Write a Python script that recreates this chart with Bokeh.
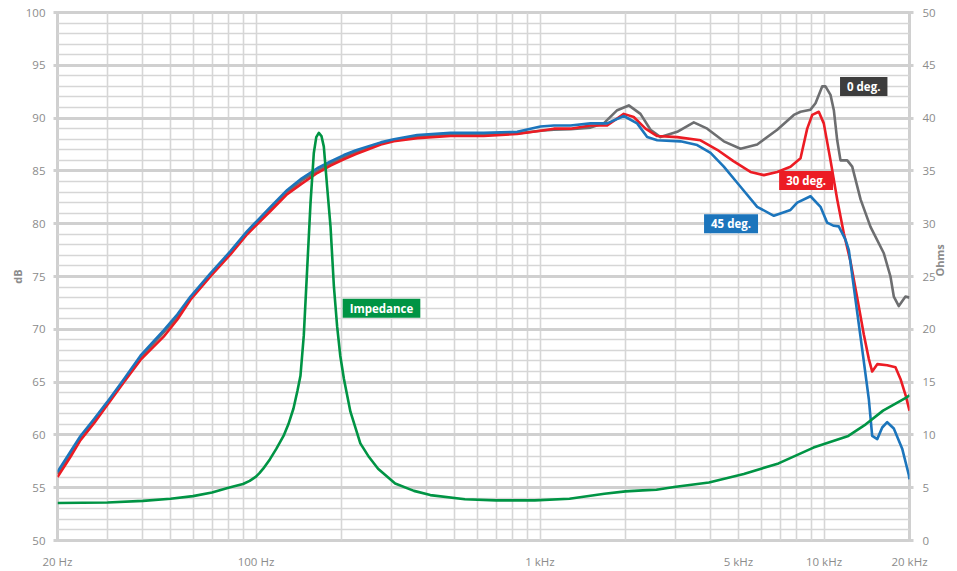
from math import pi
from bokeh.plotting import figure
from bokeh.models import Range1d, LinearAxis, FixedTicker, Label
from bokeh.embed import file_html
from bokeh.resources import INLINE

# ---------------- data ----------------
freq_lf = [20, 22.2, 24.1, 26.9, 29.9, 34.3, 39.2, 43.0, 47.3, 52.8, 58.8, 69.1, 81.3,
           93.1, 112.5, 128.8, 145, 164.3, 183, 203.8, 225, 246.3, 275, 305.8, 369.5,
           484, 634, 831, 1004, 1119, 1281]
db45_lf = [56.5, 58.4, 59.9, 61.5, 63.1, 65.3, 67.5, 68.7, 69.9, 71.4, 73.1, 75.3, 77.4,
           79.3, 81.6, 83.2, 84.3, 85.25, 85.9, 86.5, 86.95, 87.3, 87.7, 88.0, 88.4,
           88.6, 88.6, 88.7, 89.2, 89.3, 89.3]
db30_lf = [56.0, 57.9, 59.5, 61.1, 62.8, 65.0, 67.1, 68.2, 69.3, 70.9, 72.8, 75.0, 77.1,
           79.0, 81.2, 82.8, 83.8, 84.8, 85.5, 86.1, 86.6, 87.0, 87.5, 87.8, 88.1,
           88.3, 88.3, 88.5, 88.8, 89.0, 89.0]
db0_lf = [56.3, 58.2, 59.7, 61.3, 62.95, 65.15, 67.3, 68.5, 69.7, 71.15, 72.95, 75.15, 77.25,
          79.15, 81.4, 83.0, 84.1, 85.0, 85.7, 86.3, 86.8, 87.15, 87.6, 87.9, 88.25,
          88.45, 88.45, 88.55, 88.8, 88.9, 88.95]

freq0_hf = [1506, 1677, 1870, 2054, 2258, 2449, 2656, 3042, 3480, 3880, 4438, 5082, 5818,
            6844, 7828, 8266, 8962, 9334, 9854, 10120, 10540, 10830, 11130, 11430, 12070,
            12570, 13450, 14580, 16240, 17140, 17610, 18340, 19360, 20000]
db0_hf = [89.1, 89.5, 90.75, 91.2, 90.4, 88.9, 88.2, 88.7, 89.6, 89.0, 87.8, 87.1, 87.5,
          88.9, 90.3, 90.6, 90.8, 91.4, 93.0, 93.0, 92.2, 90.75, 87.9, 86.0, 86.0,
          85.4, 82.3, 79.7, 77.2, 75.0, 73.1, 72.2, 73.1, 73.0]

freq30_hf = [1506, 1724, 1972, 2138, 2352, 2586, 3042, 3674, 4207, 4812, 5510, 6138, 6844,
             7621, 8266, 8726, 9088, 9586, 9982, 10540, 11130, 11740, 12400, 13090, 13810,
             14380, 14780, 15400, 16690, 17850, 18590, 19360, 20000]
db30_hf = [89.3, 89.3, 90.4, 90.1, 89.0, 88.3, 88.2, 87.9, 87.0, 85.9, 84.9, 84.6, 84.9,
           85.4, 86.2, 89.0, 90.3, 90.6, 89.5, 86.0, 82.3, 79.1, 76.4, 73.0, 69.5,
           67.2, 66.0, 66.7, 66.6, 66.4, 65.3, 63.8, 62.3]

freq45_hf = [1506, 1724, 1972, 2198, 2384, 2586, 3124, 3577, 3986, 4438, 5082, 5818, 6659,
             7621, 8046, 8962, 9720, 10260, 10830, 11270, 11900, 12230, 12910, 13630, 14380,
             14780, 15400, 16030, 16690, 17610, 18850, 19890, 20000]
db45_hf = [89.5, 89.5, 90.2, 89.5, 88.2, 87.9, 87.8, 87.45, 86.7, 85.4, 83.5, 81.6, 80.75,
           81.3, 82.0, 82.6, 81.6, 80.1, 79.8, 79.75, 78.5, 77.5, 72.8, 68.1, 63.4,
           59.9, 59.6, 60.7, 61.2, 60.6, 58.7, 56.2, 55.8]

freq_imp = [20, 30, 40, 50, 60, 70, 80, 90, 95, 100, 103, 106, 112, 118, 125, 130, 135.5,
            140, 143.4, 147.3, 151.4, 155.6, 159.8, 163, 166.4, 170, 173.3, 178, 183, 188,
            193, 198, 204, 215, 233, 250, 269, 309, 360, 411, 544, 700, 958, 1270, 1686,
            2000, 2300, 2570, 2966, 3934, 5218, 6915, 9183, 12180, 14030, 16140, 19410, 20000]
ohm_imp = [3.55, 3.6, 3.75, 3.95, 4.2, 4.55, 5.0, 5.35, 5.65, 6.05, 6.4, 6.8, 7.7, 8.7, 9.9,
           11.0, 12.5, 14.2, 15.6, 19.4, 25.7, 32.0, 36.7, 38.2, 38.6, 38.3, 37.3, 33.5,
           29.7, 24.1, 20.3, 17.5, 15.3, 12.2, 9.2, 7.9, 6.8, 5.4, 4.7, 4.3, 3.9, 3.8, 3.8,
           3.96, 4.43, 4.65, 4.75, 4.8, 5.06, 5.5, 6.3, 7.3, 8.8, 9.9, 11.0, 12.3, 13.5, 13.75]

freq_0 = freq_lf + freq0_hf
db_0 = db0_lf + db0_hf
freq_30 = freq_lf + freq30_hf
db_30 = db30_lf + db30_hf
freq_45 = freq_lf + freq45_hf
db_45 = db45_lf + db45_hf

x_tick_values = [20, 100, 1000, 5000, 10000, 20000]
x_tick_labels = ["20 Hz", "100 Hz", "1 kHz", "5 kHz", "10 kHz", "20 kHz"]
x_grid_values = [20, 30, 40, 50, 60, 70, 80, 90, 100, 200, 300, 400, 500, 600, 700, 800,
                 900, 1000, 2000, 3000, 4000, 5000, 6000, 7000, 8000, 9000, 10000]
db_ticks = list(range(50, 101, 5))
db_minor = list(range(50, 101))
ohm_ticks = list(range(0, 51, 5))

# ---------------- styles ----------------
FONT = "Open Sans"
TICK_COLOR = "#8c8c8c"
GRID = "#d6d6d6"
GRID_MAJOR = "#d0d0d0"
C0, C30, C45, CIMP = "#6d6e70", "#ec1c24", "#1c75bc", "#009444"

p = figure(width=957, height=571, x_axis_type="log",
           x_range=Range1d(20, 20000), y_range=Range1d(50, 100),
           output_backend="svg", toolbar_location=None,
           min_border_left=57, min_border_right=48, min_border_top=12, min_border_bottom=29)
p.extra_y_ranges = {"ohm": Range1d(0, 50)}
p.background_fill_color = "white"
p.border_fill_color = "white"
p.outline_line_color = GRID_MAJOR
p.outline_line_width = 3

# grids
p.xgrid.ticker = FixedTicker(ticks=x_grid_values)
p.xgrid.grid_line_color = GRID
p.xgrid.grid_line_width = 1.6
p.ygrid.ticker = FixedTicker(ticks=db_ticks, minor_ticks=db_minor)
p.ygrid.grid_line_color = GRID_MAJOR
p.ygrid.grid_line_width = 3
p.ygrid.minor_grid_line_color = GRID
p.ygrid.minor_grid_line_width = 1.6

# bottom axis
xa = p.xaxis[0]
xa.ticker = FixedTicker(ticks=x_tick_values)
xa.major_label_overrides = {v: t for v, t in zip(x_tick_values, x_tick_labels)}
xa.axis_line_color = None
xa.major_tick_line_color = None
xa.minor_tick_line_color = None
xa.major_tick_out = 0
xa.major_tick_in = 0
xa.major_label_standoff = 13
xa.major_label_text_font = FONT
xa.major_label_text_font_size = "11.5px"
xa.major_label_text_color = TICK_COLOR

# left axis
ya = p.yaxis[0]
ya.ticker = FixedTicker(ticks=db_ticks)
ya.axis_line_color = None
ya.major_tick_line_color = GRID_MAJOR
ya.major_tick_line_width = 3
ya.major_tick_out = 4
ya.major_tick_in = 0
ya.minor_tick_line_color = None
ya.major_label_standoff = 8
ya.major_label_text_font = FONT
ya.major_label_text_font_size = "11.5px"
ya.major_label_text_color = TICK_COLOR
ya.axis_label = "dB"
ya.axis_label_standoff = -2
ya.axis_label_text_font = FONT
ya.axis_label_text_font_size = "11px"
ya.axis_label_text_font_style = "bold"
ya.axis_label_text_color = TICK_COLOR

# right axis
ra = LinearAxis(y_range_name="ohm", ticker=FixedTicker(ticks=ohm_ticks))
ra.axis_line_color = None
ra.major_tick_line_color = GRID_MAJOR
ra.major_tick_line_width = 3
ra.major_tick_out = 4
ra.major_tick_in = 0
ra.minor_tick_line_color = None
ra.major_label_standoff = 9
ra.major_label_text_font = FONT
ra.major_label_text_font_size = "11.5px"
ra.major_label_text_color = TICK_COLOR
ra.axis_label = "Ohms"
ra.axis_label_standoff = 1
ra.axis_label_text_font = FONT
ra.axis_label_text_font_size = "11px"
ra.axis_label_text_font_style = "bold"
ra.axis_label_text_color = TICK_COLOR
try:
    ra.axis_label_orientation = pi / 2
except Exception:
    pass
p.add_layout(ra, "right")

# curves
p.line(freq_0, db_0, line_color=C0, line_width=2.6, line_join="round")
p.line(freq_30, db_30, line_color=C30, line_width=2.6, line_join="round")
p.line(freq_45, db_45, line_color=C45, line_width=2.6, line_join="round")
p.line(freq_imp, ohm_imp, y_range_name="ohm", line_color=CIMP, line_width=2.6, line_join="round")


def tag(text, x, y, color, yname="default"):
    kw = dict(x=x, y=y, text=text, text_align="center", text_baseline="middle",
              text_font=FONT, text_font_size="11.5px", text_font_style="bold",
              text_color="white", background_fill_color=color, y_range_name=yname)
    try:
        lab = Label(padding=dict(left=7, right=7, top=2, bottom=2), **kw)
    except Exception:
        lab = Label(padding=3, **kw)
    p.add_layout(lab)


tag("0 deg.", 13800, 93.0, "#3d3d3d")
tag("30 deg.", 8650, 84.1, C30)
tag("45 deg.", 4706, 80.0, C45)
tag("Impedance", 276.6, 72.0, CIMP)

open("out.html", "w").write(file_html(p, INLINE))
